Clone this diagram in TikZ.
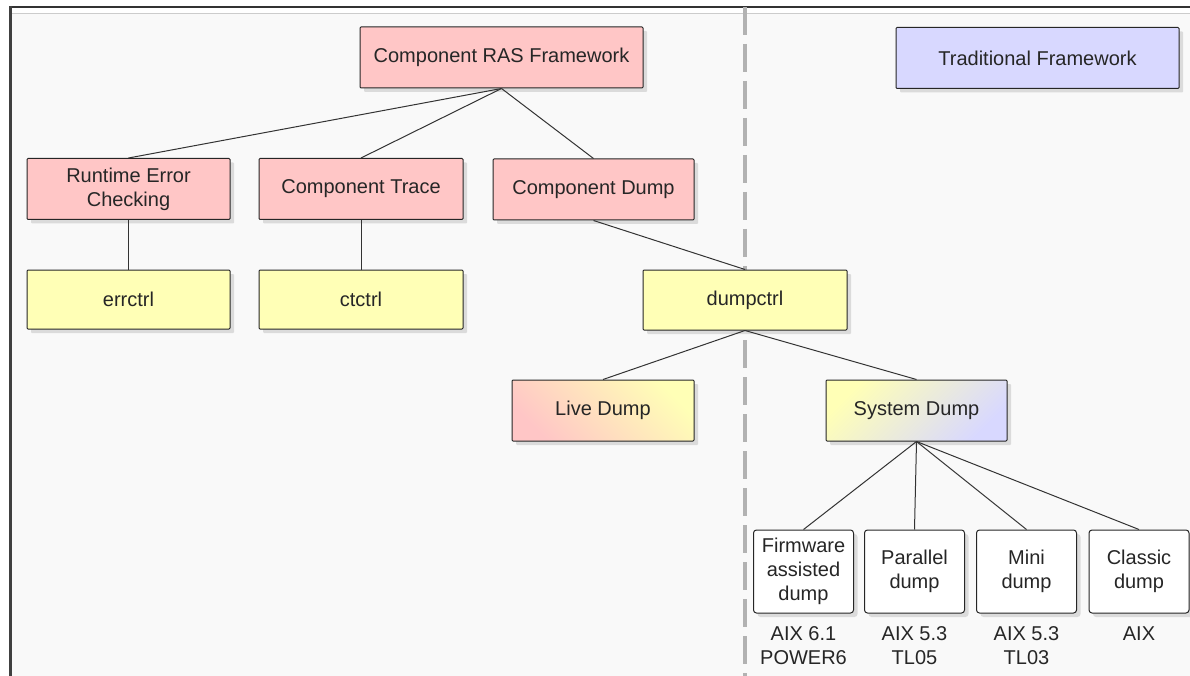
\documentclass[tikz,border=0pt]{standalone}
\usepackage{fontspec}
\setmainfont{Liberation Sans}
\usetikzlibrary{shadows}
\definecolor{raspink}{RGB}{255,198,198}
\definecolor{ctrlyellow}{RGB}{255,255,182}
\definecolor{tradblue}{RGB}{216,216,255}
\definecolor{panelgray}{RGB}{249,249,249}
\tikzset{
  box/.style={draw=black!85,line width=1pt,rounded corners=1pt,align=center,
    minimum height=61pt,inner sep=0pt,text=black!85,
    font=\fontsize{20}{24}\selectfont,
    drop shadow={shadow xshift=4pt,shadow yshift=-4pt,fill=black!25}},
  pinkbox/.style={box,fill=raspink},
  ctrlbox/.style={box,fill=ctrlyellow},
  tradbox/.style={box,fill=tradblue},
  dumpbox/.style={box,rounded corners=3pt,fill=white,minimum width=100pt,minimum height=83pt},
  oslabel/.style={align=center,inner sep=0pt,text=black!85,font=\fontsize{20}{24}\selectfont},
  link/.style={black!80,line width=1pt},
  sepline/.style={black!30,line width=4pt,dash pattern=on 28pt off 9pt}
}
\def\pinknode{\node[pinkbox]}
\def\ctrlnode{\node[ctrlbox]}
\def\dumpnode{\node[dumpbox]}

\begin{document}
\begin{tikzpicture}[x=1pt,y=-1pt]
\useasboundingbox (0,0) rectangle (1190,676);
\fill[white] (0,0) rectangle (1190,676);
\fill[panelgray] (10,14) rectangle (1190,676);
\draw[black!20,line width=1pt] (10,14) -- (1190,14);
\draw[black!80,line width=2pt] (9,7) -- (1190,7);
\draw[black!75,line width=3pt] (10.5,6) -- (10.5,676);
\draw[sepline] (745,7) -- (745,676);

\pinknode (ras) [minimum width=283pt] at (501.5,57.5) {Component RAS Framework};
\node[tradbox] (trad) [minimum width=283pt] at (1037.5,58) {Traditional Framework};
\pinknode (rte) [minimum width=203pt] at (128.5,189) {Runtime Error\\Checking};
\pinknode (trace) [minimum width=204pt] at (361,189) {Component Trace};
\pinknode (cdump) [minimum width=201pt] at (593.5,189.5) {Component Dump};
\ctrlnode (errctrl) [minimum width=203pt,minimum height=59pt] at (128.5,299.5) {errctrl};
\ctrlnode (ctctrl) [minimum width=204pt,minimum height=59pt] at (361,299.5) {ctctrl};
\ctrlnode (dumpctrl) [minimum width=204pt,minimum height=60pt] at (745,300) {dumpctrl};
\node[box,minimum width=182pt,top color=ctrlyellow,bottom color=raspink,shading angle=-45] (live) at (603,410.5) {Live Dump};
\node[box,minimum width=181pt,top color=ctrlyellow,bottom color=tradblue,shading angle=45] (sysdump) at (916.5,410.5) {System Dump};
\dumpnode (fad) at (803.5,571.5) {Firmware\\assisted\\dump};
\dumpnode (pardump) at (914.5,571.5) {Parallel\\dump};
\dumpnode (minidump) at (1026.5,571.5) {Mini\\dump};
\dumpnode (classic) at (1139,571.5) {Classic\\dump};
\node[oslabel] (fados) at (803.5,646) {AIX 6.1\\POWER6};
\node[oslabel] (paros) at (914.5,646) {AIX 5.3\\TL05};
\node[oslabel] (minios) at (1026.5,646) {AIX 5.3\\TL03};
\node[oslabel] (classicos) at (1139,634) {AIX};

\draw[link] (ras.south) -- (rte.north);
\draw[link] (ras.south) -- (trace.north);
\draw[link] (ras.south) -- (cdump.north);
\draw[link] (rte.south) -- (errctrl.north);
\draw[link] (trace.south) -- (ctctrl.north);
\draw[link] (cdump.south) -- (dumpctrl.north);
\draw[link] (dumpctrl.south) -- (live.north);
\draw[link] (dumpctrl.south) -- (sysdump.north);
\draw[link] (sysdump.south) -- (fad.north);
\draw[link] (sysdump.south) -- (pardump.north);
\draw[link] (sysdump.south) -- (minidump.north);
\draw[link] (sysdump.south) -- (classic.north);
\end{tikzpicture}
\end{document}
